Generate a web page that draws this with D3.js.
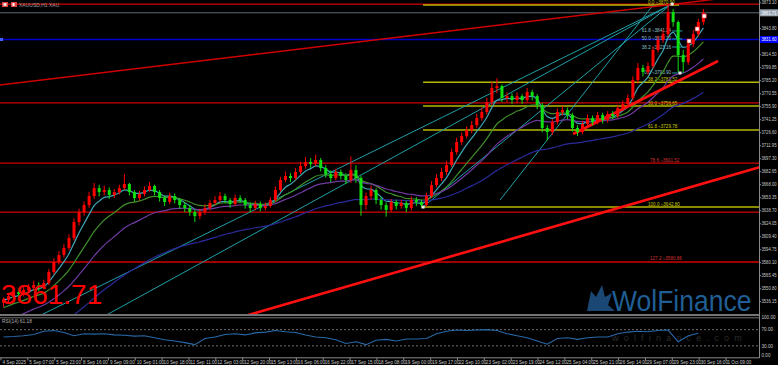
<!DOCTYPE html>
<html><head><meta charset="utf-8">
<script src="https://cdn.jsdelivr.net/npm/d3@7"></script>
<style>html,body{margin:0;padding:0;background:#000;overflow:hidden}svg{display:block}</style>
</head><body>
<svg id="c" width="778" height="365"></svg>
<script>
// ---------- DATA ----------
const firstOpen = 3535.0;
const closes = [3538.0,3542.5,3547.0,3544.8,3549.3,3551.6,3554.9,3552.7,3557.2,3569.6,
3580.9,3588.7,3596.6,3607.9,3625.9,3637.2,3645.1,3655.2,3664.2,3659.7,
3662.0,3656.4,3659.7,3664.2,3668.8,3659.7,3653.0,3657.5,3662.0,3666.5,
3659.7,3653.0,3648.5,3655.2,3650.7,3645.1,3641.7,3637.2,3632.7,3637.2,
3641.7,3647.4,3650.7,3655.2,3650.7,3646.2,3653.0,3650.7,3645.1,3641.7,
3646.2,3641.7,3644.0,3650.7,3662.0,3673.3,3677.8,3675.5,3682.3,3689.0,
3693.5,3691.3,3695.8,3686.8,3680.0,3675.5,3682.3,3677.8,3673.3,3684.5,
3675.5,3645.1,3655.2,3662.0,3650.7,3645.1,3639.5,3648.5,3644.0,3647.4,
3641.7,3650.7,3648.5,3645.1,3655.2,3667.6,3675.5,3682.3,3690.2,3704.8,
3716.1,3722.8,3729.6,3735.2,3743.1,3749.9,3761.2,3776.9,3779.2,3765.7,
3767.9,3763.4,3767.9,3763.4,3772.4,3767.9,3757.8,3731.9,3727.4,3738.6,
3749.9,3752.1,3746.5,3731.9,3727.4,3736.4,3743.1,3738.6,3746.5,3740.9,
3747.6,3745.4,3754.4,3758.9,3765.7,3785.9,3799.5,3795.0,3801.7,3819.8,
3831.1,3837.8,3862.6,3851.3,3814.1,3806.2,3826.5,3837.8,3851.3,3861.71];
const highs = [3541,3546,3550,3551,3553,3556,3560,3558,3561,3573,
3585,3593,3601,3612,3630,3641,3649,3660,3670,3668,
3667,3665,3663,3668,3680,3670,3662,3661,3666,3671,
3668,3662,3656,3659,3658,3653,3648,3645,3640,3641,
3646,3651,3655,3660,3658,3653,3657,3656,3653,3648,
3650,3649,3648,3654,3666,3677,3683,3681,3687,3694,
3699,3698,3702,3698,3690,3684,3686,3685,3681,3700,
3690,3678,3659,3667,3664,3654,3648,3652,3651,3651,
3650,3655,3654,3651,3659,3672,3680,3687,3695,3709,
3721,3727,3734,3740,3748,3755,3766,3784,3788,3781,
3772,3771,3772,3770,3777,3775,3770,3760,3735,3742,
3754,3757,3755,3749,3735,3740,3747,3746,3750,3749,
3751,3751,3758,3763,3770,3790,3805,3803,3806,3824,
3836,3843,3871,3866,3853,3820,3830,3842,3855,3866];
const lows = [3530,3535,3540,3541,3542,3546,3549,3548,3550,3555,
3567,3578,3586,3594,3605,3622,3633,3642,3652,3655,
3656,3652,3653,3657,3662,3656,3649,3650,3655,3660,
3656,3649,3644,3646,3647,3641,3637,3633,3626,3629,
3634,3639,3645,3648,3647,3642,3644,3647,3641,3637,
3639,3638,3639,3642,3649,3660,3671,3671,3673,3680,
3686,3687,3689,3683,3676,3671,3673,3674,3669,3670,
3670,3633,3640,3651,3646,3640,3632,3637,3640,3641,
3637,3639,3644,3642,3643,3653,3665,3672,3679,3688,
3702,3713,3720,3726,3732,3740,3747,3758,3771,3761,
3761,3759,3760,3759,3761,3763,3753,3727,3718,3724,
3736,3746,3742,3728,3723,3725,3733,3735,3736,3737,
3738,3742,3743,3751,3756,3763,3782,3790,3792,3799,
3817,3828,3835,3846,3795,3794,3803,3823,3835,3848];
const rsiValues = [52,53,55,58,66,68,63,55,60,59,60,57,56,54,55,50,45,42,38,33,
48,52,58,60,57,62,64,68,65,63,57,52,50,45,36,40,33,44,46,42,
47,47,48,60,66,69,68,69,70,68,60,55,50,42,34,48,50,46,50,52,
52,60,64,66,65,68,69,40,55,61.18];
const timeLabels = ["4 Sep 2025","5 Sep 07:00","5 Sep 23:00","8 Sep 16:00","9 Sep 09:00","10 Sep 01:00","10 Sep 18:00","11 Sep 11:00","12 Sep 03:00","12 Sep 20:00","15 Sep 13:00","16 Sep 06:00","16 Sep 22:00","17 Sep 15:00","18 Sep 08:00","19 Sep 00:00","19 Sep 17:00","22 Sep 10:00","23 Sep 02:00","23 Sep 19:00","24 Sep 12:00","25 Sep 04:00","25 Sep 21:00","26 Sep 14:00","29 Sep 07:00","29 Sep 23:00","30 Sep 16:00","1 Oct 09:00"];
const priceTicks = [3873.10,3843.80,3814.50,3799.85,3785.20,3770.55,3755.90,3741.25,3726.60,3711.95,3697.30,3682.65,3668.00,3653.35,3638.70,3624.05,3609.40,3594.75,3580.10,3565.45,3550.80,3536.15];
const rsiTicks = [100,70,30,0];
const maPeriods = [5,12,22,50];
const maSeeds = [3538,3528,3510,3480];
const maColors = ["#3fa6b8","#3f8f2a","#6f3aa0","#2a2a9a"];
const bidPrice = 3861.71;
const bluePrice = 3831.60;
const redLevels = [3871.6,3760.1,3692.4,3637.2,3580.9];
const fibLow = 3642.8, fibHigh = 3870.5;
const fibLevels = [0,38.2,50,61.8,100];
const fibAnchor = [251.5, 399.9];
const redLevelLabels = [[3692.4,"78.6 \u22483691.52"],[3580.9,"127.2 \u22483580.86"]];
const fib2Low = 3793.9, fib2High = 3870.5;
const fib2Levels = [0,38.2,50,61.8];
// lines given as [[bar, price],[bar, price]]
const thinRedTrend = [[-0.6,3780.4],[452,3883.0]];
const thickRedTrends = [[[340.9,3725.1],[427.3,3807.4]],[[141.2,3517.8],[452.3,3687.9]]];
const tealLines = [[[398.7,3870.5],[20.3,3517.8]],[[398.7,3870.5],[59.6,3517.8]],[[398.7,3870.5],[251.5,3642.9]],[[388.6,3870.5],[297.4,3650.8]]];
const whiteMarkers = [[410.0,3829.9],[414.8,3843.5],[419.0,3858.1]];
const anchorDots = [[251.5,3642.8],[399.9,3871.6],[404.6,3793.9]];

// ---------- SCALES ----------
const svg = d3.select("#c");
const PR = 759, MB = 314;
const x = d3.scaleLinear().domain([0,432]).range([1,726]);
const y = d3.scaleLinear().domain([3873.10,3536.15]).range([2.7,301.7]);
const yr = d3.scaleLinear().domain([0,100]).range([358,317.5]);
const cx = i => x(3*i+1.5);
const fnt = "Liberation Sans, Arial, sans-serif";

svg.append("rect").attr("width",778).attr("height",365).attr("fill","#000");
const defs = svg.append("defs");
defs.append("clipPath").attr("id","cm").append("rect").attr("x",0).attr("y",0).attr("width",PR).attr("height",MB);
defs.append("clipPath").attr("id","cr").append("rect").attr("x",0).attr("y",318).attr("width",PR).attr("height",40);

const g = svg.append("g").attr("clip-path","url(#cm)");

// watermark
const wm = g.append("g");
wm.append("path").attr("d","M587,311 L591,291 L596,297 L602,285 L605,297 L612,293 L608,305 L615,311 Z").attr("fill","#1d4f80").attr("opacity",0.9);
wm.append("text").attr("transform","translate(612,311) scale(1,1.1)").attr("font-family",fnt).attr("font-size",26.5)
  .attr("fill","#1f5f95").text("WolFinance");

// horizontal levels
redLevels.forEach(p=>g.append("line").attr("x1",0).attr("x2",PR).attr("y1",y(p)).attr("y2",y(p)).attr("stroke","#d00000").attr("stroke-width",1.3));
g.append("line").attr("x1",0).attr("x2",PR).attr("y1",y(bidPrice)).attr("y2",y(bidPrice)).attr("stroke","#5f6b75").attr("stroke-width",1);
g.append("line").attr("x1",0).attr("x2",PR).attr("y1",y(bluePrice)).attr("y2",y(bluePrice)).attr("stroke","#0000c8").attr("stroke-width",1.5);

// fib
fibLevels.forEach(l=>{
  const p = fibHigh - l/100*(fibHigh-fibLow);
  const x2 = l===0 ? x(404) : PR;
  g.append("line").attr("x1",x(fibAnchor[0])).attr("x2",x2).attr("y1",y(p)).attr("y2",y(p)).attr("stroke","#b8b800").attr("stroke-width",1.5);
  g.append("text").attr("x",648).attr("y",y(p)-1.5).attr("font-family",fnt).attr("font-size",4.6).attr("fill","#c8c800")
   .text(l.toFixed(1)+" \u2248"+p.toFixed(2));
});
redLevelLabels.forEach(d=>g.append("text").attr("x",650).attr("y",y(d[0])-1.5).attr("font-family",fnt).attr("font-size",4.6).attr("fill","#d03030").text(d[1]));

// teal lines
const ln = d3.line().x(d=>x(d[0])).y(d=>y(d[1]));
tealLines.forEach(l=>g.append("path").attr("d",ln(l)).attr("fill","none").attr("stroke","#1f9fa8").attr("stroke-width",1));
// fib2 short lines + labels
fib2Levels.forEach(l=>{
  const p = fib2Low + l/100*(fib2High-fib2Low);
  g.append("line").attr("x1",x(399.9)).attr("x2",x(406)).attr("y1",y(p)).attr("y2",y(p)).attr("stroke","#1f9fa8").attr("stroke-width",1);
  g.append("text").attr("x",x(399.9)-1).attr("y",y(p)+1.5).attr("text-anchor","end").attr("font-family",fnt).attr("font-size",4.6).attr("fill","#8fc0c8")
   .text(l.toFixed(1)+" \u2248"+p.toFixed(2));
});

// moving averages
maPeriods.forEach((n,k)=>{
  const a = 2/(n+1); let e = maSeeds[k]; const pts=[];
  closes.forEach((c,i)=>{ e = e + a*(c-e); pts.push([i,e]); });
  g.append("path").attr("d",d3.line().curve(d3.curveMonotoneX).x(d=>cx(d[0])).y(d=>y(d[1]))(pts))
   .attr("fill","none").attr("stroke",maColors[k]).attr("stroke-width",1.2);
});

// trend lines
g.append("path").attr("d",ln(thinRedTrend)).attr("stroke","#d00000").attr("stroke-width",1.4).attr("fill","none");
thickRedTrends.forEach(l=>g.append("path").attr("d",ln(l)).attr("stroke","#ff1010").attr("stroke-width",2.6).attr("fill","none"));

// candles
const cg = g.append("g");
closes.forEach((c,i)=>{
  const o = i===0 ? firstOpen : closes[i-1];
  const col = c>=o ? "#ff0000" : "#10e010";
  const xc = cx(i);
  cg.append("line").attr("x1",xc).attr("x2",xc).attr("y1",y(highs[i])).attr("y2",y(lows[i])).attr("stroke",col).attr("stroke-width",1);
  const t = y(Math.max(o,c)), b = y(Math.min(o,c));
  cg.append("rect").attr("x",xc-1.5).attr("y",t).attr("width",3).attr("height",Math.max(1,b-t)).attr("fill",col);
});

// markers
whiteMarkers.forEach(d=>g.append("rect").attr("x",x(d[0])-2).attr("y",y(d[1])-2).attr("width",4).attr("height",4).attr("fill","#fff").attr("stroke","#ff3030").attr("stroke-width",0.7));
anchorDots.forEach(d=>g.append("rect").attr("x",x(d[0])-1.5).attr("y",y(d[1])-1.5).attr("width",3).attr("height",3).attr("fill","#e8e8e8"));

// big price
g.append("text").attr("x",1).attr("y",304).attr("font-family",fnt).attr("font-size",28).attr("fill","#ff0000").text("3861.71");

// top-left header
svg.append("rect").attr("x",2).attr("y",2).attr("width",6).attr("height",5).attr("fill","#e04040");
svg.append("rect").attr("x",3.5).attr("y",3.2).attr("width",3).attr("height",2.6).attr("fill","#f0f0f0");
svg.append("rect").attr("x",11).attr("y",2).attr("width",6).attr("height",5).attr("fill","#e04040");
svg.append("rect").attr("x",12.5).attr("y",3).attr("width",2).attr("height",3).attr("fill","#fff");
svg.append("text").attr("x",19).attr("y",6.5).attr("font-family",fnt).attr("font-size",5).attr("fill","#a0a0a0").text("XAUUSD,H1  XAU");
svg.append("rect").attr("x",0).attr("y",y(bluePrice)-1.5).attr("width",3).attr("height",3).attr("fill","#4060ff");

// separator & rsi panel
svg.append("line").attr("x1",0).attr("x2",PR).attr("y1",315).attr("y2",315).attr("stroke","#9a9a9a").attr("stroke-width",1.5);
svg.append("line").attr("x1",0).attr("x2",PR).attr("y1",317.8).attr("y2",317.8).attr("stroke","#707070").attr("stroke-width",1);
[70,30].forEach(v=>svg.append("line").attr("x1",0).attr("x2",PR).attr("y1",yr(v)).attr("y2",yr(v)).attr("stroke","#8a8a8a").attr("stroke-width",0.8).attr("stroke-dasharray","2,2"));
const rg = svg.append("g").attr("clip-path","url(#cr)");
rg.append("text").attr("x",612).attr("y",341).attr("font-family",fnt).attr("font-size",9).attr("letter-spacing",5.2).attr("fill","#2c2c2c").text("wolfinance.com");
rg.append("path").attr("d",d3.line().x((d,j)=>x(6*j+1.5)).y(d=>yr(d))(rsiValues)).attr("fill","none").attr("stroke","#2868a8").attr("stroke-width",1.1);
svg.append("text").attr("x",2).attr("y",323).attr("font-family",fnt).attr("font-size",4.8).attr("fill","#b0b0b0").text("RSI(14) 61.18");

// axes
svg.append("line").attr("x1",PR+0.5).attr("x2",PR+0.5).attr("y1",0).attr("y2",358).attr("stroke","#8a8a8a");
svg.append("line").attr("x1",0).attr("x2",PR+0.5).attr("y1",357.8).attr("y2",357.8).attr("stroke","#8a8a8a");
const lab = (sel)=>sel.attr("font-family",fnt).attr("font-size",4.6).attr("textLength",15).attr("lengthAdjust","spacingAndGlyphs");
priceTicks.forEach(p=>{
  svg.append("line").attr("x1",PR).attr("x2",PR+2).attr("y1",y(p)).attr("y2",y(p)).attr("stroke","#8a8a8a");
  lab(svg.append("text").attr("x",PR+2.5).attr("y",y(p)+1.7)).attr("fill","#c8c8c8").text(p.toFixed(2));
});
rsiTicks.forEach(v=>{
  const yy = Math.min(yr(v),355.7);
  svg.append("text").attr("x",PR+2.5).attr("y",yy+1.7).attr("font-family",fnt).attr("font-size",4.6).attr("fill","#c8c8c8").text(v.toFixed(2));
});
// price boxes
svg.append("rect").attr("x",PR+1).attr("y",y(bidPrice)-3.5).attr("width",18).attr("height",7).attr("fill","#9aa6b2");
lab(svg.append("text").attr("x",PR+2.5).attr("y",y(bidPrice)+1.7)).attr("fill","#fff").text(bidPrice.toFixed(2));
svg.append("rect").attr("x",PR+1).attr("y",y(bluePrice)-3.5).attr("width",18).attr("height",7).attr("fill","#0000ff");
lab(svg.append("text").attr("x",PR+2.5).attr("y",y(bluePrice)+1.7)).attr("fill","#fff").text(bluePrice.toFixed(2));
// time axis
timeLabels.forEach((t,k)=>{
  const xx = x(16*k);
  svg.append("line").attr("x1",xx).attr("x2",xx).attr("y1",357.8).attr("y2",360.5).attr("stroke","#8a8a8a");
  svg.append("text").attr("x",xx+1.5).attr("y",364.3).attr("font-family",fnt).attr("font-size",4.6).attr("fill","#c8c8c8").text(t);
});
</script>
</body></html>
